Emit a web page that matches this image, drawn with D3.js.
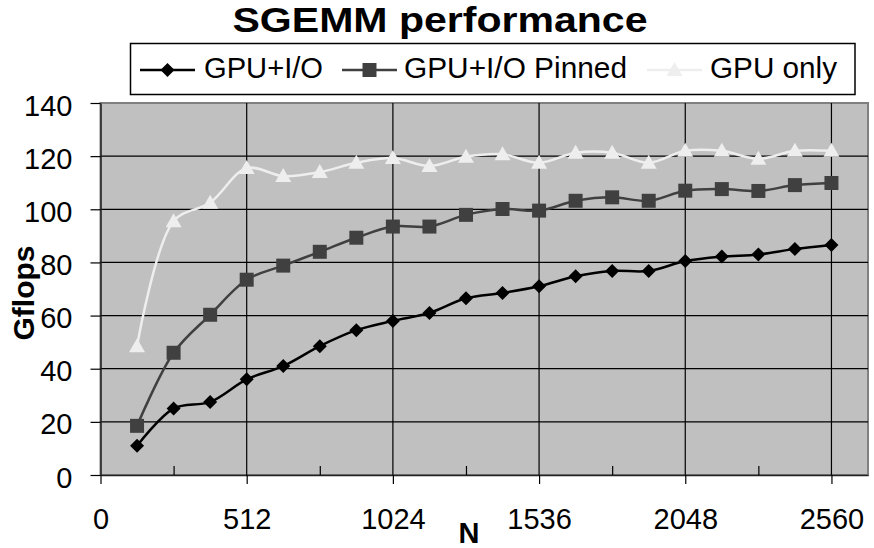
<!DOCTYPE html>
<html>
<head>
<meta charset="utf-8">
<script src="https://cdn.jsdelivr.net/npm/d3@7"></script>
<style>
    body { margin: 0; background: #fff; }
    svg text { font-family: "Liberation Sans", Arial, Helvetica, sans-serif; }
</style>
</head>
<body>
<svg id="chart" width="874" height="548"></svg>
<script>
const sizes = [128, 256, 384, 512, 640, 768, 896, 1024, 1152, 1280,
               1408, 1536, 1664, 1792, 1920, 2048, 2176, 2304, 2432, 2560];
const gpuIo = [11, 25, 27.5, 36, 41, 48.5, 54.5, 58, 61, 66.5,
               68.5, 71, 74.8, 76.8, 76.8, 80.5, 82.2, 83, 85.1, 86.6];
const gpuIoPinned = [18.5, 46, 60.3, 73.5, 78.8, 84, 89.3, 93.5, 93.5, 97.9,
                     100.1, 99.5, 103.2, 104.5, 103.2, 107, 107.6, 106.9, 109.1, 109.9];
const gpuOnly = [48.5, 95.5, 102.5, 115.5, 112.5, 114, 117.5, 119.3, 116.3, 119.8,
                 120.7, 117.5, 121.3, 121.3, 117.5, 122, 122, 119, 122, 122];
const xTicks = [0, 512, 1024, 1536, 2048, 2560];
const xMinorTicks = [256, 768, 1280, 1792, 2304];
const yTicks = [0, 20, 40, 60, 80, 100, 120, 140];

const SERIES = [
    { label: 'GPU+I/O', values: gpuIo, color: '#000000', marker: 'diamond' },
    { label: 'GPU+I/O Pinned', values: gpuIoPinned, color: '#404040', marker: 'square' },
    { label: 'GPU only', values: gpuOnly, color: '#eeeeee', marker: 'triangle' }
];

const FONT = '"Liberation Sans", Arial, Helvetica, sans-serif';
const margin = { top: 103, right: 6, bottom: 73, left: 100.5 };
const width  = 874 - margin.left - margin.right;
const height = 548 - margin.top - margin.bottom;

const svg = d3.select('#chart');

// title
svg.append('text')
    .attr('x', 440)
    .attr('y', 32)
    .attr('text-anchor', 'middle')
    .attr('textLength', 415)
    .attr('lengthAdjust', 'spacingAndGlyphs')
    .style('font-family', FONT)
    .style('font-size', '35px')
    .style('font-weight', 'bold')
    .text('SGEMM performance');

const g = svg.append('g')
    .attr('transform', 'translate(' + margin.left + ',' + margin.top + ')');

const x = d3.scaleLinear().domain([0, 2688]).range([0, width]);
const y = d3.scaleLinear().domain([0, 140]).range([height, 0]);

g.append('rect')
    .attr('width', width)
    .attr('height', height)
    .attr('fill', '#c0c0c0')
    .attr('stroke', '#808080')
    .attr('stroke-width', 2);

// gridlines
g.selectAll('.hgrid')
    .data(yTicks.filter(function(d) { return d > 0 && d < 140; }))
    .enter().append('line')
    .attr('x1', 0).attr('x2', width)
    .attr('y1', function(d) { return y(d); })
    .attr('y2', function(d) { return y(d); })
    .attr('stroke', '#000').attr('stroke-width', 1.2);

g.selectAll('.vgrid')
    .data(xTicks.filter(function(d) { return d > 0; }))
    .enter().append('line')
    .attr('x1', function(d) { return x(d); })
    .attr('x2', function(d) { return x(d); })
    .attr('y1', 0).attr('y2', height)
    .attr('stroke', '#000').attr('stroke-width', 1.2);

// axes
const xAxis = g.append('g')
    .attr('transform', 'translate(0,' + height + ')')
    .call(d3.axisBottom(x).tickValues(xTicks).tickSize(9).tickSizeOuter(0).tickFormat(d3.format('d')));
xAxis.select('.domain').attr('stroke', '#222').attr('stroke-width', 1.5);
xAxis.selectAll('line').attr('stroke-width', 1.2);
xAxis.selectAll('text')
    .attr('y', 54).attr('dy', 0)
    .style('font-family', FONT)
    .style('font-size', '29px');

g.append('g')
    .attr('transform', 'translate(0,' + height + ')')
    .call(d3.axisTop(x).tickValues(xMinorTicks).tickSize(9).tickSizeOuter(0).tickFormat(''))
    .call(function(a) { a.select('.domain').remove(); })
    .selectAll('line').attr('stroke-width', 1.2);

const yAxis = g.append('g')
    .call(d3.axisLeft(y).tickValues(yTicks).tickSize(10).tickSizeOuter(0));
yAxis.select('.domain').attr('stroke', '#222').attr('stroke-width', 1.5);
yAxis.selectAll('line').attr('stroke-width', 1.2);
yAxis.selectAll('text')
    .attr('x', -28).attr('dy', 12)
    .style('font-family', FONT)
    .style('font-size', '29px');

// axis titles
svg.append('text')
    .attr('x', 469)
    .attr('y', 543)
    .attr('text-anchor', 'middle')
    .style('font-family', FONT)
    .style('font-size', '29px')
    .style('font-weight', 'bold')
    .text('N');

svg.append('text')
    .attr('transform', 'translate(34,293) rotate(-90)')
    .attr('text-anchor', 'middle')
    .style('font-family', FONT)
    .style('font-size', '30px')
    .style('font-weight', 'bold')
    .text('Gflops');

function markerPath(type) {
    if (type === 'diamond') return 'M0,-7L7,0L0,7L-7,0Z';
    if (type === 'square') return 'M-7,-7H7V7H-7Z';
    return 'M0,-8L8,6H-8Z';
}

const line = d3.line()
    .x(function(d) { return x(d.n); })
    .y(function(d) { return y(d.v); })
    .curve(d3.curveCatmullRom.alpha(0.5));

SERIES.forEach(function(s) {
    const data = sizes.map(function(n, i) { return { n: n, v: s.values[i] }; });
    g.append('path')
        .datum(data)
        .attr('fill', 'none')
        .attr('stroke', s.color)
        .attr('stroke-width', 2.5)
        .attr('d', line);
    g.selectAll(null)
        .data(data)
        .enter().append('path')
        .attr('transform', function(d) { return 'translate(' + x(d.n) + ',' + y(d.v) + ')'; })
        .attr('d', markerPath(s.marker))
        .attr('fill', s.color);
});

// legend
const legendItems = [
    { x0: 140, x1: 195, tx: 204, tl: 119 },
    { x0: 342, x1: 397, tx: 404, tl: 223 },
    { x0: 647, x1: 702, tx: 710, tl: 127 }
];
const legend = svg.append('g');
legend.append('rect')
    .attr('x', 130.5).attr('y', 43.5)
    .attr('width', 724.5).attr('height', 51)
    .attr('fill', '#fff')
    .attr('stroke', '#000').attr('stroke-width', 1.5);

SERIES.forEach(function(s, i) {
    const it = legendItems[i];
    legend.append('line')
        .attr('x1', it.x0).attr('x2', it.x1)
        .attr('y1', 70).attr('y2', 70)
        .attr('stroke', s.color).attr('stroke-width', 2.5);
    legend.append('path')
        .attr('transform', 'translate(' + ((it.x0 + it.x1) / 2) + ',70)')
        .attr('d', markerPath(s.marker))
        .attr('fill', s.color);
    legend.append('text')
        .attr('x', it.tx).attr('y', 78)
        .attr('textLength', it.tl)
        .attr('lengthAdjust', 'spacingAndGlyphs')
        .style('font-family', FONT)
        .style('font-size', '29px')
        .text(s.label);
});
</script>
</body>
</html>
